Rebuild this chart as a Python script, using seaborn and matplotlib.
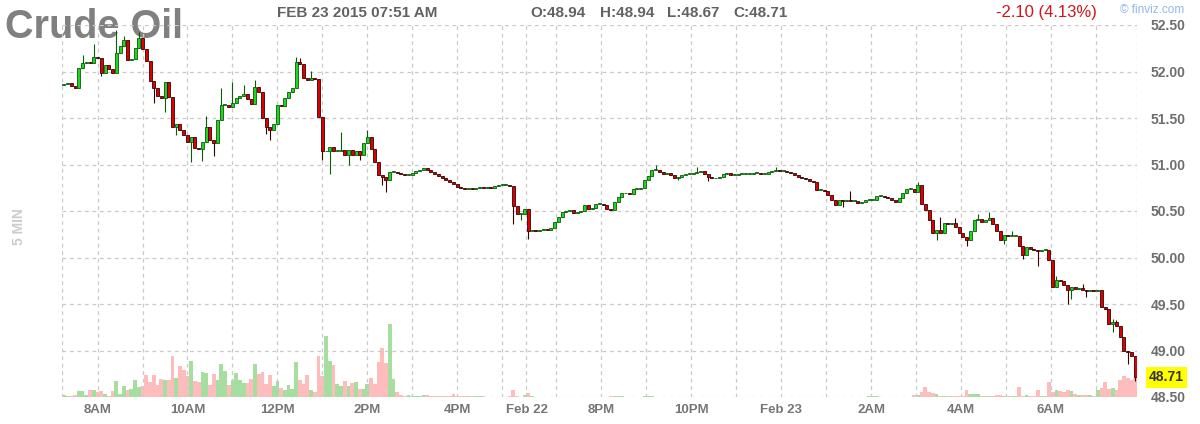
import numpy as np
import pandas as pd
import matplotlib
matplotlib.use("Agg")
import matplotlib.pyplot as plt
import matplotlib.transforms as mtransforms
import seaborn as sns

# 5-minute closes, Fri Feb 20 7:15AM .. Mon Feb 23 7:50AM (one per candle slot)
closes = [
    51.87, 51.88, 51.84, 51.82, 52.04, 52.09, 52.10, 52.09, 52.16, 52.14,   # 0
    51.98, 52.07, 52.03, 51.98, 52.20, 52.27, 52.34, 52.12, 52.13, 52.25,   # 10
    52.36, 52.24, 52.11, 51.90, 51.82, 51.74, 51.72, 51.89, 51.73, 51.40,   # 20
    51.44, 51.37, 51.32, 51.24, 51.30, 51.18, 51.17, 51.24, 51.40, 51.26,   # 30
    51.23, 51.48, 51.64, 51.64, 51.62, 51.66, 51.72, 51.74, 51.76, 51.70,   # 40
    51.65, 51.83, 51.78, 51.50, 51.40, 51.37, 51.44, 51.64, 51.63, 51.71,   # 50
    51.78, 51.82, 52.10, 52.08, 51.93, 51.91, 51.93, 51.92, 51.51, 51.14,   # 60
    51.14, 51.19, 51.15, 51.15, 51.16, 51.10, 51.16, 51.10, 51.14, 51.10,   # 70
    51.23, 51.30, 51.17, 51.03, 50.89, 50.87, 50.83, 50.92, 50.92, 50.91,   # 80
    50.90, 50.89, 50.89, 50.91, 50.93, 50.94, 50.96, 50.94, 50.92, 50.90,   # 90
    50.88, 50.86, 50.83, 50.81, 50.79, 50.76, 50.75, 50.74, 50.75, 50.74,   # 100
    50.75, 50.76, 50.75, 50.76, 50.75, 50.77, 50.78, 50.78, 50.78, 50.77,   # 110
    50.55, 50.47, 50.47, 50.52, 50.28, 50.30, 50.29, 50.30, 50.31, 50.30,   # 120
    50.32, 50.38, 50.44, 50.49, 50.50, 50.51, 50.48, 50.49, 50.50, 50.56,   # 130
    50.52, 50.53, 50.58, 50.58, 50.56, 50.52, 50.51, 50.60, 50.65, 50.69,   # 140
    50.69, 50.68, 50.74, 50.74, 50.75, 50.83, 50.88, 50.94, 50.94, 50.92,   # 150
    50.90, 50.91, 50.89, 50.86, 50.87, 50.89, 50.90, 50.90, 50.91, 50.92,   # 160
    50.93, 50.90, 50.87, 50.85, 50.86, 50.87, 50.90, 50.91, 50.89, 50.89,   # 170
    50.90, 50.90, 50.90, 50.90, 50.91, 50.91, 50.90, 50.90, 50.92, 50.93,   # 180
    50.94, 50.93, 50.93, 50.92, 50.91, 50.89, 50.87, 50.85, 50.84, 50.82,   # 190
    50.81, 50.73, 50.73, 50.71, 50.67, 50.62, 50.56, 50.62, 50.61, 50.62,   # 200
    50.61, 50.61, 50.59, 50.60, 50.62, 50.62, 50.62, 50.66, 50.66, 50.65,   # 210
    50.64, 50.62, 50.60, 50.64, 50.69, 50.74, 50.74, 50.70, 50.78, 50.58,   # 220
    50.51, 50.40, 50.26, 50.30, 50.26, 50.37, 50.36, 50.37, 50.33, 50.26,   # 230
    50.22, 50.19, 50.28, 50.40, 50.41, 50.38, 50.40, 50.42, 50.36, 50.28,   # 240
    50.19, 50.24, 50.23, 50.23, 50.23, 50.12, 50.03, 50.11, 50.09, 50.08,   # 250
    50.07, 50.08, 50.08, 49.97, 49.68, 49.76, 49.75, 49.70, 49.65, 49.68,   # 260
    49.66, 49.67, 49.65, 49.64, 49.65, 49.64, 49.65, 49.47, 49.45, 49.29,   # 270
    49.31, 49.26, 49.15, 49.00, 48.98, 48.94, 48.71,                        # 280
]
first_open = 51.85

# visible wicks (slot: price); other candles have no wick beyond the body
wick_high = {5: 52.18, 8: 52.30, 14: 52.45, 16: 52.38, 20: 52.42, 38: 51.52, 42: 51.82,
             45: 51.89, 48: 51.86, 51: 51.91, 62: 52.16, 63: 52.14, 64: 52.03, 66: 52.01,
             74: 51.35, 81: 51.37, 158: 50.99, 169: 50.97, 190: 50.97, 210: 50.71,
             228: 50.81, 234: 50.44, 238: 50.42, 244: 50.47, 247: 50.49, 253: 50.29,
             265: 49.80, 272: 49.72, 280: 49.34, 281: 49.33}
wick_low = {10: 51.95, 24: 51.66, 27: 51.56, 30: 51.32, 34: 51.03, 37: 51.04, 40: 51.09,
            54: 51.33, 55: 51.26, 69: 51.05, 71: 50.90, 76: 51.00, 79: 51.05, 85: 50.78,
            86: 50.70, 120: 50.36, 122: 50.40, 124: 50.20, 164: 50.83, 172: 50.82,
            208: 50.54, 233: 50.19, 241: 50.12, 251: 50.15, 256: 49.98, 260: 49.91,
            268: 49.50, 269: 49.55, 273: 49.58, 280: 49.20, 284: 48.85, 286: 48.67}

volume = [
    2.3, 1, 1, 1.7, 6, 6, 2, 7, 7, 4.7,
    6, 2.7, 1, 6, 16, 3.3, 11, 6.7, 8.3, 17.3,
    10, 10.7, 22.3, 15, 22.3, 12.3, 18.3, 17.3, 17.3, 40.7,
    19.3, 31, 26.7, 20.7, 36, 16, 15, 25, 24, 11.7,
    22.7, 17.3, 32.7, 26, 11.7, 17.3, 24, 17.3, 14, 14,
    18.3, 32.7, 22.7, 25, 12.7, 21.7, 10.7, 16, 9.3, 7.3,
    12.3, 8.3, 35, 17.3, 13.3, 21.7, 7.3, 5, 40.7, 20.7,
    61, 36, 31.7, 12.7, 10.7, 16, 10.7, 14, 15, 7.7,
    8.3, 13.3, 19.3, 13.3, 35, 49.3, 34, 72.7, 18.3, 5,
    2, 1.5, 2, 1.5, 1.5, 1, 2.3, 2.3, 1, 1,
    1, 1, 1, 1, 3.3, 1, 1, 1.5, 1.5, 1,
    1, 1, 1, 0.5, 0.5, 0.5, 0.5, 0.5, 0.5, 1,
    6.7, 1.5, 0.5, 2, 4, 1, 0.5, 0.5, 0.5, 0.5,
    0.5, 0.5, 0.5, 0.5, 0.5, 0.5, 0.5, 0.5, 0.5, 0.5,
    0.5, 0.5, 0.5, 0.5, 0.5, 0.5, 1.3, 1.3, 1.3, 1,
    0.5, 0.5, 0.5, 0.5, 0.5, 1, 1, 1, 0.5, 0.5,
    0.5, 0.5, 0.5, 0.5, 0.5, 0.5, 0.5, 0.5, 0.5, 0.5,
    0.5, 0.5, 0.5, 0.5, 0.5, 0.5, 0.5, 0.5, 0.5, 0.5,
    0.5, 0.5, 0.5, 0.5, 0.5, 0.5, 0.5, 0.5, 0.5, 0.5,
    0.5, 0.5, 0.5, 0.5, 0.5, 0.5, 0.5, 0.5, 0.5, 0.5,
    0.5, 0.5, 0.5, 0.5, 0.5, 0.5, 0.5, 0.5, 0.5, 0.5,
    0.5, 0.5, 0.5, 0.5, 0.5, 0.8, 0.8, 0.8, 0.5, 0.5,
    0.5, 0.5, 0.5, 0.5, 0.5, 0.5, 0.5, 2.3, 2.3, 5,
    10, 5, 4, 2.7, 1.5, 1, 1, 1.5, 1, 1,
    1, 6.7, 3.3, 3.3, 3.3, 1, 1, 1, 1, 2.3,
    2.3, 1.3, 1.3, 1.3, 1.3, 10, 1, 2.3, 1, 1,
    6.7, 1.5, 1.5, 15, 5, 6.7, 6, 5, 7.3, 6,
    3.3, 2.3, 2.3, 2.3, 2.3, 0.7, 7.3, 9, 15, 8.3,
    9, 6.7, 17.3, 20.7, 19.3, 16.7, 19,
]

# hour gridlines (slot positions) and their labels
hour_pos = [9, 21, 33, 45, 57, 69, 81, 93, 105, 117, 123.5, 131.5, 143.5, 155.5,
            167.5, 179.5, 191.5, 203.5, 215.5, 227.5, 239.5, 251.5, 263.5, 275.5]
hour_lab = ["8AM", "", "10AM", "", "12PM", "", "2PM", "", "4PM", "", "Feb 22", "", "8PM", "",
            "10PM", "", "Feb 23", "", "2AM", "", "4AM", "", "6AM", ""]
price_ticks = [48.5, 49.0, 49.5, 50.0, 50.5, 51.0, 51.5, 52.0, 52.5]

# build frame
opens = [first_open] + closes[:-1]
df = pd.DataFrame({"slot": np.arange(len(closes)), "open": opens, "close": closes, "volume": volume})
df["high"] = [wick_high.get(i, max(o, c)) for i, o, c in zip(df.slot, df.open, df.close)]
df["low"] = [wick_low.get(i, min(o, c)) for i, o, c in zip(df.slot, df.open, df.close)]
df["dir"] = np.where(df["close"] >= df["open"], "up", "down")

sns.set_style("white")
plt.rcParams['font.family'] = ['Liberation Sans', 'DejaVu Sans']

W, H = 1200, 424
fig = plt.figure(figsize=(W / 100, H / 100), dpi=100)
ax = fig.add_axes([62 / W, 27 / H, 1075 / W, 372 / H])
axv = ax.twinx()

# volume
sns.barplot(data=df, x="slot", y="volume", hue="dir", native_scale=True, dodge=False,
            palette={"up": "#a6dea0", "down": "#ffbcbc"}, saturation=1, width=1.0,
            errorbar=None, legend=False, linewidth=0, ax=axv)
axv.set_ylim(0, 372)
axv.set_yticks([])
axv.set_ylabel("")
axv.set_xlabel("")
for s in axv.spines.values():
    s.set_visible(False)

ax.set_zorder(axv.get_zorder() + 1)
ax.patch.set_visible(False)

# candles
up = df["dir"] == "up"
fill = np.where(up, "#22d422", "#dd0000")
edge = np.where(up, "#0a5c0a", "#3a0000")
ax.vlines(df["slot"], df["low"], df["high"], colors=edge, linewidth=0.8, zorder=2)
body_h = np.maximum((df["close"] - df["open"]).abs(), 0.008)
ax.bar(df["slot"], body_h, bottom=np.minimum(df["open"], df["close"]), width=0.8,
       color=fill, edgecolor=edge, linewidth=0.6, zorder=3)

ax.set_xlim(-0.5, len(closes) - 0.5)
ax.set_ylim(48.5, 52.5)
grid_kw = dict(color="#c9c9c9", linestyle=(0, (3, 3)), linewidth=0.9)
ax.set_xticks(hour_pos)
ax.set_xticklabels(hour_lab)
ax.set_yticks(price_ticks)
ax.set_yticklabels([f"{p:.2f}" for p in price_ticks])
ax.grid(True, **grid_kw)
ax.axvline(-0.5, **grid_kw)
ax.axvline(len(closes) - 0.5, **grid_kw)
ax.yaxis.tick_right()
ax.tick_params(axis="y", length=0, pad=10, labelsize=10, labelcolor="#6e6e6e")
ax.tick_params(axis="x", length=0, pad=5, labelsize=9.5, labelcolor="#767676")
for lab in ax.get_xticklabels() + ax.get_yticklabels():
    lab.set_fontweight("bold")
for s in ax.spines.values():
    s.set_visible(False)

# last price tag
tr = mtransforms.blended_transform_factory(ax.transAxes, ax.transData)
ax.text(1.0 + 12 / 1075, closes[-1], f"{closes[-1]:.2f}", transform=tr, va="center", ha="left",
        fontsize=10, fontweight="bold", color="#333333", clip_on=False, zorder=5,
        bbox=dict(boxstyle="square,pad=0.25", facecolor="#ffff00", edgecolor="none"))

# header texts
def px(x, y):
    return x / W, 1 - y / H

ax.text(*px(5, 38), "Crude Oil", transform=fig.transFigure, fontsize=28.5, fontweight="bold",
        color="#808080", va="baseline", ha="left", zorder=0.5, clip_on=False)
fig.text(*px(277, 13), "FEB 23 2015 07:51 AM", fontsize=11, fontweight="bold", color="#626262", va="center")
fig.text(*px(530, 13), "O:48.94", fontsize=11, fontweight="bold", color="#626262", va="center")
fig.text(*px(600, 13), "H:48.94", fontsize=11, fontweight="bold", color="#626262", va="center")
fig.text(*px(667, 13), "L:48.67", fontsize=11, fontweight="bold", color="#626262", va="center")
fig.text(*px(733, 13), "C:48.71", fontsize=11, fontweight="bold", color="#626262", va="center")
fig.text(*px(996, 13), "-2.10 (4.13%)", fontsize=12, color="#d0161b", va="center")
fig.text(*px(1120, 10), "\u00a9 finviz.com", fontsize=8.5, color="#8fb8e8", va="center")
fig.text(*px(19, 227), "5 MIN", fontsize=10, fontweight="bold", color="#cccccc",
         rotation=90, va="center", ha="center")

fig.savefig("out.png", dpi=100)
